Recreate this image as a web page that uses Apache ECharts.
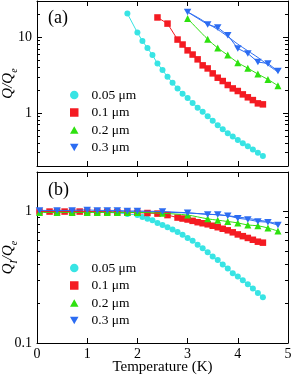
<!DOCTYPE html>
<html><head><meta charset="utf-8">
<script src="https://cdn.jsdelivr.net/npm/echarts@6/dist/echarts.min.js"></script>
<style>html,body{margin:0;padding:0;background:#fff}#c{width:291px;height:377px}</style>
</head><body><div id="c"></div>
<script>
// ---------- Data (panel a: Q/Qe) ----------
const legendNames = ['0.05 μm', '0.1 μm', '0.2 μm', '0.3 μm'];
const xTicks = [0, 1, 2, 3, 4, 5];

const tA005 = [1.8, 2.0, 2.1, 2.2, 2.3, 2.4, 2.5, 2.6, 2.7, 2.8, 2.9, 3.0, 3.1, 3.2, 3.3, 3.4, 3.5, 3.6, 3.7, 3.8, 3.9, 4.0, 4.1, 4.2, 4.3, 4.4, 4.5];
const qA005 = [20.5, 11.5, 8.9, 7.2, 5.8, 4.5, 3.68, 3.0, 2.5, 2.11, 1.79, 1.58, 1.35, 1.17, 1.04, 0.905, 0.79, 0.69, 0.61, 0.54, 0.49, 0.44, 0.40, 0.365, 0.33, 0.298, 0.27];

const tA01 = [2.4, 2.6, 2.8, 2.9, 3.0, 3.1, 3.2, 3.3, 3.4, 3.5, 3.6, 3.7, 3.8, 3.9, 4.0, 4.1, 4.2, 4.3, 4.4, 4.5];
const qA01 = [18.2, 15.1, 9.3, 8.0, 6.7, 5.9, 5.1, 4.25, 3.87, 3.33, 2.92, 2.64, 2.34, 2.11, 1.95, 1.76, 1.61, 1.48, 1.34, 1.30];

const tA02 = [3.0, 3.4, 3.6, 3.8, 4.0, 4.2, 4.4, 4.6, 4.8];
const qA02 = [17.6, 9.4, 7.2, 5.8, 4.6, 3.9, 3.26, 2.77, 2.29];

const tA03 = [3.0, 3.4, 3.6, 3.8, 4.0, 4.2, 4.4, 4.6, 4.8];
const qA03 = [21.5, 14.7, 13.4, 10.6, 7.1, 6.1, 4.7, 4.5, 3.57];

const tA03fit = [3.0, 3.2, 3.4, 3.6, 3.8, 4.0, 4.2, 4.4, 4.6, 4.8];
const qA03fit = [21.5, 18.2, 15.1, 12.6, 10.2, 8.1, 6.6, 5.4, 4.3, 3.47];

// ---------- Data (panel b: QI/Qe) ----------
const tB005 = [0.05, 0.4, 0.7, 1.0, 1.2, 1.4, 1.6, 1.8, 2.0, 2.1, 2.2, 2.3, 2.4, 2.5, 2.6, 2.7, 2.8, 2.9, 3.0, 3.1, 3.2, 3.3, 3.4, 3.5, 3.6, 3.7, 3.8, 3.9, 4.0, 4.1, 4.2, 4.3, 4.4, 4.5];
const qB005 = [1.0, 1.0, 1.0, 0.995, 0.99, 0.985, 0.975, 0.96, 0.94, 0.91, 0.88, 0.86, 0.82, 0.79, 0.76, 0.73, 0.70, 0.665, 0.63, 0.60, 0.56, 0.525, 0.49, 0.456, 0.428, 0.396, 0.369, 0.34, 0.32, 0.30, 0.28, 0.26, 0.24, 0.223];

const tB01 = [0.05, 0.25, 0.4, 0.55, 0.7, 0.85, 1.0, 1.2, 1.4, 1.6, 1.8, 2.0, 2.2, 2.4, 2.6, 2.8, 2.9, 3.0, 3.1, 3.2, 3.3, 3.4, 3.5, 3.6, 3.7, 3.8, 3.9, 4.0, 4.1, 4.2, 4.3, 4.4, 4.5];
const qB01 = [1.0, 1.0, 1.0, 1.0, 1.0, 1.0, 1.0, 1.0, 0.995, 0.99, 0.985, 0.98, 0.975, 0.965, 0.94, 0.90, 0.885, 0.87, 0.85, 0.83, 0.815, 0.80, 0.78, 0.76, 0.74, 0.72, 0.695, 0.67, 0.65, 0.63, 0.61, 0.59, 0.58];

const tB02 = [0.05, 0.4, 0.7, 1.0, 1.2, 1.4, 1.6, 1.8, 2.0, 2.5, 3.0, 3.4, 3.6, 3.8, 4.0, 4.2, 4.4, 4.6, 4.8];
const qB02 = [0.985, 0.985, 0.985, 0.985, 0.985, 0.985, 0.985, 0.985, 0.985, 0.97, 0.94, 0.88, 0.86, 0.84, 0.82, 0.79, 0.78, 0.75, 0.71];

const tB03 = [0.05, 0.4, 0.7, 1.0, 1.2, 1.4, 1.6, 1.8, 2.0, 2.5, 3.0, 3.4, 3.6, 3.8, 4.0, 4.2, 4.4, 4.6, 4.8];
const qB03 = [1.02, 1.02, 1.02, 1.03, 1.02, 1.02, 1.02, 1.01, 1.01, 1.0, 0.98, 0.95, 0.95, 0.93, 0.89, 0.87, 0.84, 0.83, 0.79];

const tB03fit = [0.0, 1.0, 2.0, 2.5, 3.0, 3.5, 4.0, 4.5, 4.8];
const qB03fit = [1.0, 1.0, 0.995, 0.99, 0.975, 0.95, 0.91, 0.85, 0.81];

// axis tick values
const majA = [1, 10];
const minA = [0.2, 0.3, 0.4, 0.5, 0.6, 0.7, 0.8, 0.9, 2, 3, 4, 5, 6, 7, 8, 9, 20, 30];
const majB = [0.1, 1];
const minB = [0.2, 0.3, 0.4, 0.5, 0.6, 0.7, 0.8, 0.9, 2];

// ---------- Styles ----------
const COL = ['#38e4e4', '#f41b22', '#2ee10f', '#2c6cf2'];
const SYM = ['circle', 'rect', 'triangle', 'path://M0,0L10,0L5,8.66Z'];
const LEG_ICON = [
  'path://M5,0A5,5,0,1,1,5,10A5,5,0,1,1,5,0Z',
  'path://M0,0L10,0L10,10L0,10Z',
  'path://M5,0L10,8.66L0,8.66Z',
  'path://M0,0L10,0L5,8.66Z'
];
const SIZE = [6, 6.5, 7, 7.5];
const FONT = 'Liberation Serif';
const zip = (t, q) => t.map((v, i) => [v, q[i]]);

const chart = echarts.init(document.getElementById('c'), null, {renderer: 'canvas'});

function xAx(grid, pos, labels) {
  return {
    type: 'value', gridIndex: grid, position: pos, min: 0, max: 5, interval: 1,
    axisLine: {show: true, lineStyle: {color: '#000', width: 1}},
    axisTick: {show: true, inside: true, length: 5, lineStyle: {color: '#000'}},
    axisLabel: {show: labels, color: '#000', fontFamily: FONT, fontSize: 14, margin: 4},
    splitLine: {show: false},
    name: labels ? 'Temperature (K)' : '',
    nameLocation: 'middle', nameGap: 17, nameMoveOverlap: false,
    nameTextStyle: {color: '#000', fontFamily: FONT, fontSize: 15}
  };
}
function yAx(grid, pos, min, max, ticks, len, labels, line, name) {
  const ax = {
    type: 'log', logBase: 10, gridIndex: grid, position: pos, min: min, max: max,
    axisLine: {show: line, lineStyle: {color: '#000', width: 1}},
    axisTick: {show: true, inside: true, length: len, customValues: ticks, lineStyle: {color: '#000'}},
    axisLabel: {show: labels, customValues: ticks, color: '#000', fontFamily: FONT, fontSize: 14, margin: 5},
    splitLine: {show: false}
  };
  if (name) {
    ax.name = name;
    ax.nameLocation = 'middle';
    ax.nameGap = 18;
    ax.nameMoveOverlap = false;
    ax.nameTextStyle = {
      color: '#000',
      rich: {
        q: {fontFamily: FONT, fontStyle: 'italic', fontSize: 15, color: '#000', lineHeight: 18, verticalAlign: 'top'},
        s: {fontFamily: FONT, fontStyle: 'italic', fontSize: 10, color: '#000', lineHeight: 10, verticalAlign: 'bottom'}
      }
    };
  }
  return ax;
}

function markerSeries(i, name, t, q, xi, yi, smooth) {
  return {
    type: 'line', name: name, xAxisIndex: xi, yAxisIndex: yi,
    data: zip(t, q), symbol: SYM[i], symbolSize: SIZE[i], symbolKeepAspect: true,
    showAllSymbol: true, smooth: smooth || false,
    lineStyle: {color: COL[i], width: 1}, itemStyle: {color: COL[i], borderWidth: 0},
    emphasis: {disabled: true}, z: 2 + i
  };
}
function fitSeries(i, name, t, q, xi, yi) {
  return {
    type: 'line', name: name, xAxisIndex: xi, yAxisIndex: yi,
    data: zip(t, q), symbol: 'none', smooth: 0.4,
    lineStyle: {color: COL[i], width: 1}, itemStyle: {color: COL[i]},
    emphasis: {disabled: true}, z: 2
  };
}
function legendCfg(top) {
  return {
    orient: 'vertical', left: 70, top: top, padding: 0,
    itemWidth: 8.5, itemHeight: 8.5, itemGap: 3.5, symbolKeepAspect: true,
    lineStyle: {width: 0}, selectedMode: false,
    data: legendNames.map((n, i) => ({name: n, icon: LEG_ICON[i]})),
    formatter: '{t|{name}}',
    textStyle: {
      fontFamily: FONT, fontSize: 13.5, color: '#000', lineHeight: 13,
      rich: {t: {fontFamily: FONT, fontSize: 13.5, color: '#000', lineHeight: 13, padding: [0, 0, 0, 8]}}
    }
  };
}

const option = {
  animation: false,
  backgroundColor: '#fff',
  grid: [
    {left: 37, top: 1, width: 251, height: 165, containLabel: false, outerBoundsMode: 'none'},
    {left: 37, top: 172, width: 251, height: 171, containLabel: false, outerBoundsMode: 'none'}
  ],
  xAxis: [xAx(0, 'bottom', false), xAx(0, 'top', false), xAx(1, 'bottom', true), xAx(1, 'top', false)],
  yAxis: [
    yAx(0, 'left', 0.2, 30, majA, 5, true, true, '{q|Q}{q|/Q}{s|e}'),
    yAx(0, 'left', 0.2, 30, minA, 3, false, false),
    yAx(0, 'right', 0.2, 30, majA, 5, false, true),
    yAx(0, 'right', 0.2, 30, minA, 3, false, false),
    yAx(1, 'left', 0.1, 2, majB, 5, true, true, '{q|Q}{s|I}{q|/Q}{s|e}'),
    yAx(1, 'left', 0.1, 2, minB, 3, false, false),
    yAx(1, 'right', 0.1, 2, majB, 5, false, true),
    yAx(1, 'right', 0.1, 2, minB, 3, false, false)
  ],
  legend: [legendCfg(88), legendCfg(261)],
  graphic: [
    {type: 'text', left: 48, top: 9, style: {text: '(a)', fontFamily: FONT, fontSize: 18, fill: '#000'}},
    {type: 'text', left: 48, top: 181, style: {text: '(b)', fontFamily: FONT, fontSize: 18, fill: '#000'}}
  ],
  series: [
    markerSeries(0, legendNames[0], tA005, qA005, 0, 0),
    markerSeries(1, legendNames[1], tA01, qA01, 0, 0),
    markerSeries(2, legendNames[2], tA02, qA02, 0, 0, 0.3),
    fitSeries(3, 'fitA', tA03fit, qA03fit, 0, 0),
    markerSeries(3, legendNames[3], tA03, qA03, 0, 0),
    markerSeries(0, legendNames[0], tB005, qB005, 2, 4),
    markerSeries(2, legendNames[2], tB02, qB02, 2, 4, 0.3),
    markerSeries(1, legendNames[1], tB01, qB01, 2, 4),
    fitSeries(3, 'fitB', tB03fit, qB03fit, 2, 4),
    markerSeries(3, legendNames[3], tB03, qB03, 2, 4)
  ]
};
chart.setOption(option);
</script></body></html>
